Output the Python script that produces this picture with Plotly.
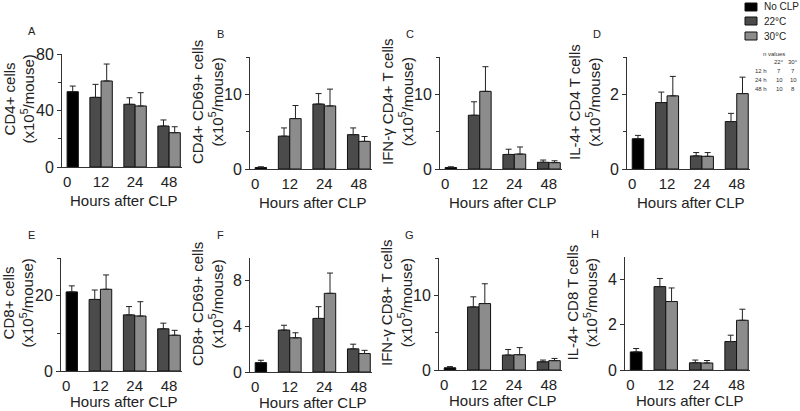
import plotly.graph_objects as go

# ---------------- data ----------------
hours = ["0", "12", "24", "48"]
treated_hours = ["12", "24", "48"]
series_names = ["No CLP", "22°C", "30°C"]
panel_letters = ["A", "B", "C", "D", "E", "F", "G", "H"]
y_title_top = ["CD4+ cells", "CD4+ CD69+ cells", "IFN-γ CD4+ T cells", "IL-4+ CD4 T cells",
               "CD8+ cells", "CD8+ CD69+ cells", "IFN-γ CD8+ T cells", "IL-4+ CD8 T cells"]
y_unit = "(x10<sup>5</sup>/mouse)"
x_title = "Hours after CLP"

# No CLP (0 h) mean and upper error end
noclp_mean = [53.3, 0.2, 0.2, 0.81, 21.0, 0.82, 0.3, 0.8]
noclp_top = [57.3, 0.3, 0.3, 0.9, 22.6, 1.03, 0.45, 0.95]
# 22 °C at 12, 24, 48 h
t22_mean = [[49.3, 44.4, 29.0], [4.4, 8.7, 4.6], [7.2, 1.95, 0.9], [1.78, 0.35, 1.27],
            [19.0, 14.9, 11.2], [3.68, 4.7, 2.03], [8.45, 2.0, 1.1], [3.69, 0.32, 1.26]]
t22_top = [[58.5, 49.0, 33.3], [5.5, 10.1, 5.5], [9.0, 2.65, 1.2], [2.06, 0.44, 1.49],
           [21.5, 17.1, 12.7], [4.1, 5.73, 2.44], [9.8, 2.75, 1.33], [4.05, 0.44, 1.54]]
# 30 °C at 12, 24, 48 h
t30_mean = [[60.9, 43.2, 24.3], [6.75, 8.45, 3.7], [10.4, 2.0, 0.85], [1.96, 0.34, 2.02],
            [21.7, 14.6, 9.5], [3.0, 6.9, 1.62], [8.9, 2.05, 1.25], [3.03, 0.31, 2.2]]
t30_top = [[72.9, 52.6, 28.5], [8.5, 10.7, 4.35], [13.7, 2.95, 1.1], [2.48, 0.44, 2.46],
           [25.5, 18.4, 10.8], [3.44, 8.68, 1.9], [11.55, 3.0, 1.55], [3.63, 0.42, 2.69]]
y_max = [80, 15, 15, 3, 30, 10, 15, 5]
y_major = [[0, 40, 80], [0, 10], [0, 10], [0, 2], [0, 20], [0, 4, 8], [0, 10], [0, 2, 4]]
y_minor = [[20, 60], [5, 15], [5, 15], [1, 3], [10, 30], [], [5, 15], []]

n_header = ["22°", "30°"]
n_rows = ["12 h", "24 h", "48 h"]
n_22 = ["7", "10", "10"]
n_30 = ["7", "10", "8"]

# ---------------- layout geometry (pixels) ----------------
W, H = 800, 411
boxes = [(62, 182, 54, 167), (250, 372, 57, 169), (440, 562, 57, 169), (627, 750, 57, 169),
         (61, 182, 258, 371), (250, 372, 258, 372), (439, 562, 258, 370), (625, 750, 257, 370)]
xtitle_gap = [33, 33, 33, 33, 30, 30, 30, 30]
colors = ["#000000", "#4b4b4b", "#8c8c8c"]
FONT = "Liberation Sans, Arial, sans-serif"
TXT = "#222"


def px(x):
    return x / W


def py(y):
    return 1 - y / H


fig = go.Figure()
layout = dict(width=W, height=H,
              margin=dict(l=0, r=0, t=0, b=0, pad=0, autoexpand=False),
              paper_bgcolor="white", plot_bgcolor="white", barmode="overlay",
              font=dict(family=FONT, color=TXT), showlegend=False)
annotations = []
shapes = []
bw = 0.33

for i in range(8):
    xl, xr, yt, yb = boxes[i]
    xa = "x" if i == 0 else f"x{i+1}"
    ya = "y" if i == 0 else f"y{i+1}"
    err = dict(type="data", symmetric=False, color="#222", thickness=1, width=3)
    fig.add_trace(go.Bar(
        x=["0"], y=[noclp_mean[i]], name=series_names[0], xaxis=xa, yaxis=ya,
        marker=dict(color=colors[0], line=dict(color="#111", width=1)),
        offset=0.0, width=bw,
        error_y=dict(err, array=[noclp_top[i] - noclp_mean[i]], arrayminus=[0])))
    fig.add_trace(go.Bar(
        x=treated_hours, y=t22_mean[i], name=series_names[1], xaxis=xa, yaxis=ya,
        marker=dict(color=colors[1], line=dict(color="#111", width=1)),
        offset=-bw, width=bw,
        error_y=dict(err, array=[t - m for t, m in zip(t22_top[i], t22_mean[i])],
                     arrayminus=[0] * 3)))
    fig.add_trace(go.Bar(
        x=treated_hours, y=t30_mean[i], name=series_names[2], xaxis=xa, yaxis=ya,
        marker=dict(color=colors[2], line=dict(color="#111", width=1)),
        offset=0.0, width=bw,
        error_y=dict(err, array=[t - m for t, m in zip(t30_top[i], t30_mean[i])],
                     arrayminus=[0] * 3)))

    key_x = "xaxis" if i == 0 else f"xaxis{i+1}"
    key_y = "yaxis" if i == 0 else f"yaxis{i+1}"
    layout[key_x] = dict(domain=[px(xl), px(xr)], anchor=ya, type="category",
                         categoryorder="array", categoryarray=hours, automargin=False,
                         range=[-0.15, 3.38], showline=True, linecolor="#333", linewidth=1,
                         ticks="", showgrid=False, zeroline=False, ticklabelstandoff=1,
                         tickfont=dict(size=15, family=FONT, color=TXT))
    layout[key_y] = dict(domain=[py(yb), py(yt)], anchor=xa, range=[0, y_max[i]],
                         automargin=False,
                         showline=True, linecolor="#333", linewidth=1, ticks="outside",
                         ticklen=4, tickcolor="#333", tickmode="array", tickvals=y_major[i],
                         showgrid=False, zeroline=False,
                         minor=dict(tickmode="array", tickvals=y_minor[i], ticks="outside",
                                    ticklen=3, tickcolor="#333", showgrid=False),
                         tickfont=dict(size=16, family=FONT, color=TXT))
    # x-axis title
    annotations.append(dict(text=x_title, x=px((xl + xr) / 2 + 2), y=py(yb + xtitle_gap[i]),
                            xref="paper", yref="paper", xanchor="center", yanchor="middle",
                            showarrow=False, font=dict(size=15, family=FONT, color=TXT)))
    # y-axis title (two lines)
    annotations.append(dict(text=y_title_top[i] + "<br>" + y_unit, textangle=-90,
                            x=px(xl - 43), y=py((yt + yb) / 2 - 11), xref="paper",
                            yref="paper", xanchor="center", yanchor="middle", showarrow=False,
                            font=dict(size=15, family=FONT, color=TXT)))
    # panel letter
    annotations.append(dict(text=panel_letters[i], x=px(xl - 30), y=py(yt - 23),
                            xref="paper", yref="paper", xanchor="center", yanchor="middle",
                            showarrow=False, font=dict(size=11, family=FONT, color=TXT)))

# manual legend
leg_y = [7, 21, 36]
for k in range(3):
    shapes.append(dict(type="rect", xref="paper", yref="paper", x0=px(745), x1=px(757),
                       y0=py(leg_y[k] + 4), y1=py(leg_y[k] - 4), fillcolor=colors[k],
                       line=dict(color="#111", width=1)))
    annotations.append(dict(text=series_names[k], x=px(762), y=py(leg_y[k]), xref="paper",
                            yref="paper", xanchor="left", yanchor="middle", showarrow=False,
                            font=dict(size=10, family=FONT, color=TXT)))

# n-values table
small = dict(size=6, family=FONT, color="#333")
annotations.append(dict(text="n values", x=px(774), y=py(54), xref="paper", yref="paper",
                        showarrow=False, font=small, xanchor="center", yanchor="middle"))
for j, h in enumerate(n_header):
    annotations.append(dict(text=h, x=px(779 + j * 14), y=py(62), xref="paper",
                            yref="paper", showarrow=False, font=small, xanchor="center",
                            yanchor="middle"))
for r in range(3):
    yy = py(71 + r * 9)
    annotations.append(dict(text=n_rows[r], x=px(753), y=yy, xref="paper", yref="paper",
                            showarrow=False, font=small, xanchor="left", yanchor="middle"))
    annotations.append(dict(text=n_22[r], x=px(779), y=yy, xref="paper", yref="paper",
                            showarrow=False, font=small, xanchor="center", yanchor="middle"))
    annotations.append(dict(text=n_30[r], x=px(793), y=yy, xref="paper", yref="paper",
                            showarrow=False, font=small, xanchor="center", yanchor="middle"))

layout["annotations"] = annotations
layout["shapes"] = shapes
fig.update_layout(**layout)
fig.write_html("out.html", config={"displayModeBar": False, "staticPlot": True},
               post_script="document.body.style.margin='0';document.body.style.overflow='hidden';")
